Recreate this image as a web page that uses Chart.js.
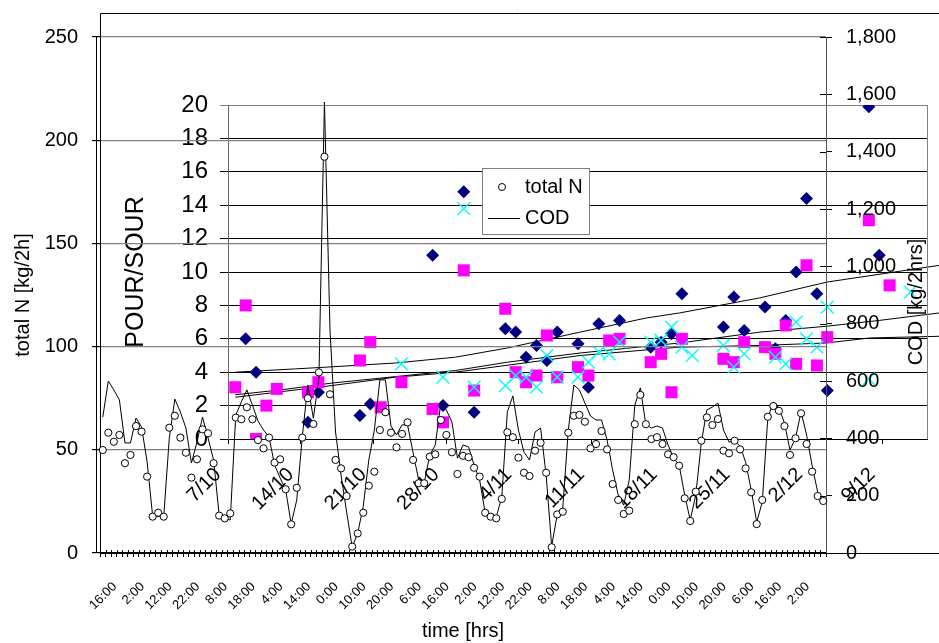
<!DOCTYPE html>
<html>
<head>
<meta charset="utf-8">
<title>total N, COD and POUR/SOUR</title>
<script src="https://cdn.jsdelivr.net/npm/chart.js@4.4.1/dist/chart.umd.min.js"></script>
<style>
  html, body { margin: 0; padding: 0; background: #fff; }
  #wrap { position: relative; width: 939px; height: 643px; }
  #wrap canvas { position: absolute; left: 0; top: 0; }
  #insetChart { z-index: 0; }
  #mainChart { z-index: 1; }
</style>
</head>
<body>
<div id="wrap">
  <canvas id="insetChart" width="939" height="643"></canvas>
  <canvas id="mainChart" width="939" height="643"></canvas>
</div>
<script>
Chart.defaults.font.family = "'Liberation Sans', Arial, sans-serif";
Chart.defaults.color = "#000";

// main chart: one sample every 2 hours, first one at 16:00
const startHour = 16;
const hourLabels = Array.from({ length: 131 }, (_, i) => ((startHour + 2 * i) % 24) + ":00");

const totalN = [
  49.9, 58.3, 53.9, 57.2, 43.5, 47.5, 61.5, 58.8, 37.0, 17.6,
  19.5, 17.6, 60.7, 66.5, 55.9, 48.6, 36.5, 45.4, 59.9, 58.0,
  43.5, 18.1, 16.8, 19.2, 65.6, 64.8, 70.6, 64.8, 54.7, 50.7,
  55.9, 43.8, 45.4, 30.9, 13.9, 31.6, 55.9, 75.0, 62.5, 87.5,
  192, 76.9, 45.1, 41.0, 27.6, 3.1, 9.5, 19.5, 32.6, 39.4,
  59.6, 68.2, 58.3, 51.2, 57.7, 63.3, 45.1, 33.8, 33.8, 46.7,
  47.8, 64.4, 57.2, 48.8, 38.3, 47.1, 46.4, 41.3, 37.0, 19.5,
  17.6, 16.8, 26.2, 58.5, 56.1, 46.2, 38.9, 37.3, 49.6, 53.4,
  38.9, 2.8, 18.7, 20.0, 58.3, 66.5, 66.9, 63.6, 50.7, 52.8,
  59.1, 50.2, 33.4, 25.7, 18.9, 20.5, 62.4, 76.6, 62.4, 55.2,
  56.1, 52.8, 47.8, 46.4, 42.3, 26.5, 15.5, 29.7, 54.4, 65.7,
  62.0, 64.9, 49.6, 48.3, 54.4, 50.2, 41.0, 29.4, 14.0, 25.7,
  66.0, 71.2, 68.9, 61.5, 47.5, 55.6, 67.7, 52.8, 39.4, 27.6,
  25.2
];

const cod = [
  474, 600, 569, 534, 384, 384, 471, 440, 318, 129,
  127, 127, 400, 537, 492, 436, 314, 387, 474, 401,
  324, 133, 122, 115, 481, 527, 569, 516, 461, 429,
  405, 307, 262, 220, 101, 185, 405, 586, 470, 610,
  1573, 778, 422, 272, 143, 21, 69, 162, 324, 429,
  604, 604, 443, 412, 447, 447, 349, 255, 244, 342,
  377, 523, 499, 457, 331, 377, 370, 307, 255, 140,
  133, 126, 195, 492, 548, 429, 352, 324, 422, 436,
  272, 24, 133, 157, 429, 586, 569, 523, 478, 464,
  464, 394, 290, 202, 167, 255, 516, 576, 447, 436,
  443, 436, 377, 331, 307, 202, 115, 202, 384, 499,
  509, 523, 429, 387, 391, 373, 317, 220, 108, 178,
  471, 527, 506, 454, 359, 401, 492, 412, 304, 213,
  178
];

// inset: days counted from 7/10, samples taken late in the day
const weekLabels = ["7/10", "14/10", "21/10", "28/10", "4/11", "11/11", "18/11", "25/11", "2/12", "9/12"];
const sampleTime = 0.7;

const diamondDays = [1, 2, 7, 8, 12, 13, 19, 20, 22, 23, 26, 27, 28, 29, 30, 31, 33, 34, 35, 37,
  40, 41, 42, 43, 47, 48, 49, 51, 52, 53, 54, 55, 56, 57, 61, 62];
const diamondVals = [6.0, 4.0, 1.0, 2.8, 1.4, 2.1, 11.0, 2.0, 14.8, 1.6, 6.6, 6.4, 4.9, 5.6, 4.7, 6.4, 5.7, 3.1, 6.9, 7.1,
  5.5, 5.8, 6.3, 8.7, 6.7, 8.5, 6.5, 7.9, 5.4, 7.1, 10.0, 14.4, 8.7, 2.9, 19.9, 11.0];

const squareDays = [0, 1, 2, 3, 4, 7, 8, 12, 13, 14, 16, 19, 20, 22, 23, 26, 27, 28, 29, 30, 31,
  33, 34, 36, 37, 40, 41, 42, 43, 47, 48, 49, 51, 52, 53, 54, 55, 56, 57, 61, 63];
const squareVals = [3.1, 8.0, 0.0, 2.0, 3.0, 2.8, 3.4, 4.7, 5.8, 1.9, 3.4, 1.8, 1.0, 10.1, 2.9, 7.8, 4.0, 3.4, 3.8, 6.2, 3.7,
  4.3, 3.8, 5.9, 6.0, 4.6, 5.1, 2.8, 6.0, 4.8, 4.6, 5.8, 5.5, 5.1, 6.8, 4.5, 10.4, 4.4, 6.1, 13.1, 9.2];

const crossDays = [16, 20, 22, 23, 26, 27, 28, 29, 30, 31, 33, 34, 35, 36, 37, 40, 41, 42, 43, 44,
  47, 48, 49, 52, 53, 54, 55, 56, 57, 61, 65];
const crossVals = [4.5, 3.7, 13.8, 3.1, 3.2, 3.8, 3.7, 3.1, 5.0, 3.7, 3.7, 4.6, 5.2, 5.1, 5.8, 5.8, 5.9, 6.7, 5.5, 5.0,
  5.6, 4.3, 5.1, 4.9, 4.5, 7.0, 6.0, 5.5, 7.9, 3.6, 8.8];

const trendADays = [0.7, 6.5, 9.4, 16.1, 21.9, 26.9, 33.9, 40.3, 43.5, 51.2, 57.7, 68.5];
const trendAVals = [4.0, 4.2, 4.3, 4.55, 4.9, 5.45, 6.4, 7.25, 7.55, 8.45, 9.4, 10.4];
const trendBDays = [0.7, 5.2, 10.0, 21.9, 26.9, 33.9, 43.5, 51.2, 57.6, 62.7, 68.5];
const trendBVals = [2.65, 2.95, 3.35, 4.1, 4.6, 5.15, 5.75, 6.4, 6.75, 7.1, 7.55];
const trendCDays = [0.7, 10.0, 16.1, 21.9, 33.9, 43.5, 51.2, 57.6, 61.8, 68.5];
const trendCVals = [2.5, 3.2, 3.7, 4.0, 5.0, 5.5, 5.6, 5.75, 6.05, 6.15];

function samplePoints(days, vals) {
  return days.map((d, i) => ({ x: d + sampleTime, y: vals[i] }));
}

function linePoints(days, vals) {
  return days.map((d, i) => ({ x: d, y: vals[i] }));
}

// inset border on the right side
const insetFrame = {
  id: "insetFrame",
  afterDraw(chart) {
    const { ctx, chartArea } = chart;
    ctx.save();
    ctx.strokeStyle = "#808080";
    ctx.lineWidth = 1;
    ctx.beginPath();
    ctx.moveTo(chartArea.right + 0.5, chartArea.top);
    ctx.lineTo(chartArea.right + 0.5, chartArea.bottom);
    ctx.stroke();
    ctx.restore();
  }
};

new Chart(document.querySelector("#insetChart"), {
  type: "scatter",
  data: {
    datasets: [
      {
        data: samplePoints(crossDays, crossVals),
        pointStyle: "crossRot",
        pointRadius: 9,
        borderColor: "#00ffff",
        borderWidth: 1.4
      },
      {
        data: samplePoints(squareDays, squareVals),
        pointStyle: "rect",
        pointRadius: 8.5,
        backgroundColor: "#ff00ff",
        borderColor: "#ff00ff",
        borderWidth: 0
      },
      {
        data: samplePoints(diamondDays, diamondVals),
        pointStyle: "rectRot",
        pointRadius: 6.5,
        backgroundColor: "#000080",
        borderColor: "#000080",
        borderWidth: 0
      },
      { data: linePoints(trendADays, trendAVals), showLine: true, pointRadius: 0, borderColor: "#000", borderWidth: 1, clip: false },
      { data: linePoints(trendBDays, trendBVals), showLine: true, pointRadius: 0, borderColor: "#000", borderWidth: 1, clip: false },
      { data: linePoints(trendCDays, trendCVals), showLine: true, pointRadius: 0, borderColor: "#000", borderWidth: 1, clip: false }
    ]
  },
  options: {
    responsive: false,
    animation: false,
    devicePixelRatio: 1,
    layout: { padding: { top: 105, right: 12, left: 0, bottom: 0 } },
    plugins: { legend: { display: false }, tooltip: { enabled: false } },
    scales: {
      x: {
        type: "linear",
        min: 0,
        max: 67.3,
        afterBuildTicks: (scale) => {
          scale.ticks = weekLabels.map((_, k) => ({ value: 7 * k }));
        },
        ticks: {
          autoSkip: false,
          minRotation: 45,
          maxRotation: 45,
          labelOffset: -10,
          padding: 19,
          font: { size: 20 },
          callback: (value) => weekLabels[Math.round(value / 7)]
        },
        grid: { drawOnChartArea: false, tickLength: 5, color: "#000" },
        border: { color: "#000" },
        afterFit: (scale) => { scale.height = 204; }
      },
      y: {
        min: 0,
        max: 20,
        ticks: { stepSize: 2, font: { size: 24 }, padding: 12 },
        grid: {
          color: (ctx) => (ctx.tick && ctx.tick.value === 20 ? "#808080" : "#000"),
          tickLength: 8
        },
        border: { color: "#666" },
        title: { display: true, text: "POUR/SOUR", font: { size: 25 }, padding: { top: 121, bottom: 0 } },
        afterFit: (scale) => { scale.width = 228; }
      }
    }
  },
  plugins: [insetFrame]
});

// outer frame, second axis line, inner tick halves, COD title and the legend box
const mainExtras = {
  id: "mainExtras",
  afterDraw(chart) {
    const { ctx, chartArea } = chart;
    const w = chart.width;
    const xScale = chart.scales.x;
    const codScale = chart.scales.yCOD;
    ctx.save();
    ctx.strokeStyle = "#000";
    ctx.lineWidth = 1;
    ctx.beginPath();
    ctx.moveTo(96.5, chartArea.top);
    ctx.lineTo(96.5, chartArea.bottom);
    ctx.moveTo(chartArea.left + 0.5, 13.5);
    ctx.lineTo(w, 13.5);
    ctx.moveTo(chartArea.left + 0.5, 13.5);
    ctx.lineTo(chartArea.left + 0.5, chartArea.top);
    ctx.moveTo(chartArea.right, chartArea.bottom + 0.5);
    ctx.lineTo(w, chartArea.bottom + 0.5);
    // tick marks cross the axes
    const half = (xScale.getPixelForTick(1) - xScale.getPixelForTick(0)) / 2;
    xScale.ticks.forEach((_, i) => {
      const px = Math.round(xScale.getPixelForTick(i) - half) + 0.5;
      ctx.moveTo(px, chartArea.bottom - 3);
      ctx.lineTo(px, chartArea.bottom);
    });
    codScale.ticks.forEach((t) => {
      const py = Math.round(codScale.getPixelForValue(t.value)) + 0.5;
      ctx.moveTo(chartArea.right - 6, py);
      ctx.lineTo(chartArea.right, py);
    });
    ctx.stroke();

    ctx.fillStyle = "#000";
    ctx.font = "20px 'Liberation Sans', Arial, sans-serif";
    ctx.textAlign = "center";
    ctx.textBaseline = "middle";
    ctx.translate(916, 302);
    ctx.rotate(-Math.PI / 2);
    ctx.fillText("COD [kg/2hrs]", 0, 0);
    ctx.setTransform(1, 0, 0, 1, 0, 0);

    ctx.fillStyle = "#fff";
    ctx.fillRect(482, 168, 108, 67);
    ctx.strokeStyle = "#808080";
    ctx.strokeRect(482.5, 168.5, 107, 66);

    ctx.beginPath();
    ctx.arc(502, 187, 3.5, 0, Math.PI * 2);
    ctx.fillStyle = "#fff";
    ctx.fill();
    ctx.strokeStyle = "#000";
    ctx.stroke();

    ctx.beginPath();
    ctx.moveTo(488, 218.5);
    ctx.lineTo(520, 218.5);
    ctx.stroke();

    ctx.fillStyle = "#000";
    ctx.textAlign = "left";
    ctx.fillText("total N", 525, 187);
    ctx.fillText("COD", 525, 218);
    ctx.restore();
  }
};

new Chart(document.querySelector("#mainChart"), {
  type: "line",
  data: {
    labels: hourLabels,
    datasets: [
      {
        label: "total N",
        data: totalN,
        yAxisID: "yN",
        showLine: false,
        pointStyle: "circle",
        pointRadius: 3.6,
        pointBackgroundColor: "#fff",
        pointBorderColor: "#000",
        pointBorderWidth: 1
      },
      {
        label: "COD",
        data: cod,
        yAxisID: "yCOD",
        borderColor: "#000",
        borderWidth: 1,
        pointRadius: 0,
        tension: 0
      }
    ]
  },
  options: {
    responsive: false,
    animation: false,
    devicePixelRatio: 1,
    layout: { padding: { top: 37, right: 0, left: 0, bottom: 0 } },
    plugins: { legend: { display: false }, tooltip: { enabled: false } },
    scales: {
      x: {
        type: "category",
        offset: true,
        grid: { display: true, drawOnChartArea: false, offset: true, tickLength: 4, color: "#000" },
        border: { color: "#000" },
        ticks: {
          autoSkip: false,
          minRotation: 45,
          maxRotation: 45,
          labelOffset: 12,
          padding: 22,
          font: { size: 13 },
          callback: (value, index) => (index % 5 === 0 && index <= 125 ? hourLabels[index] : "")
        },
        title: { display: true, text: "time [hrs]", font: { size: 20 }, padding: { top: 0, bottom: 0 } },
        afterFit: (scale) => { scale.height = 90; }
      },
      yN: {
        position: "left",
        min: 0,
        max: 250,
        ticks: { stepSize: 50, font: { size: 20 }, padding: 14 },
        grid: {
          color: (ctx) => (ctx.tick && ctx.tick.value === 0 ? "#000" : "#808080"),
          lineWidth: 1.2,
          tickLength: 8,
          tickColor: "#000"
        },
        border: { color: "#000" },
        title: { display: true, text: "total N [kg/2h]", font: { size: 20 }, padding: { top: 11, bottom: 0 } },
        afterFit: (scale) => { scale.width = 100; }
      },
      yCOD: {
        position: "right",
        min: 0,
        max: 1800,
        ticks: { stepSize: 200, font: { size: 20 }, padding: 14, callback: (v) => v.toLocaleString("en-US") },
        grid: { drawOnChartArea: false, tickLength: 6, color: "#000" },
        border: { color: "#555" },
        afterFit: (scale) => { scale.width = 113; }
      }
    }
  },
  plugins: [mainExtras]
});
</script>
</body>
</html>
